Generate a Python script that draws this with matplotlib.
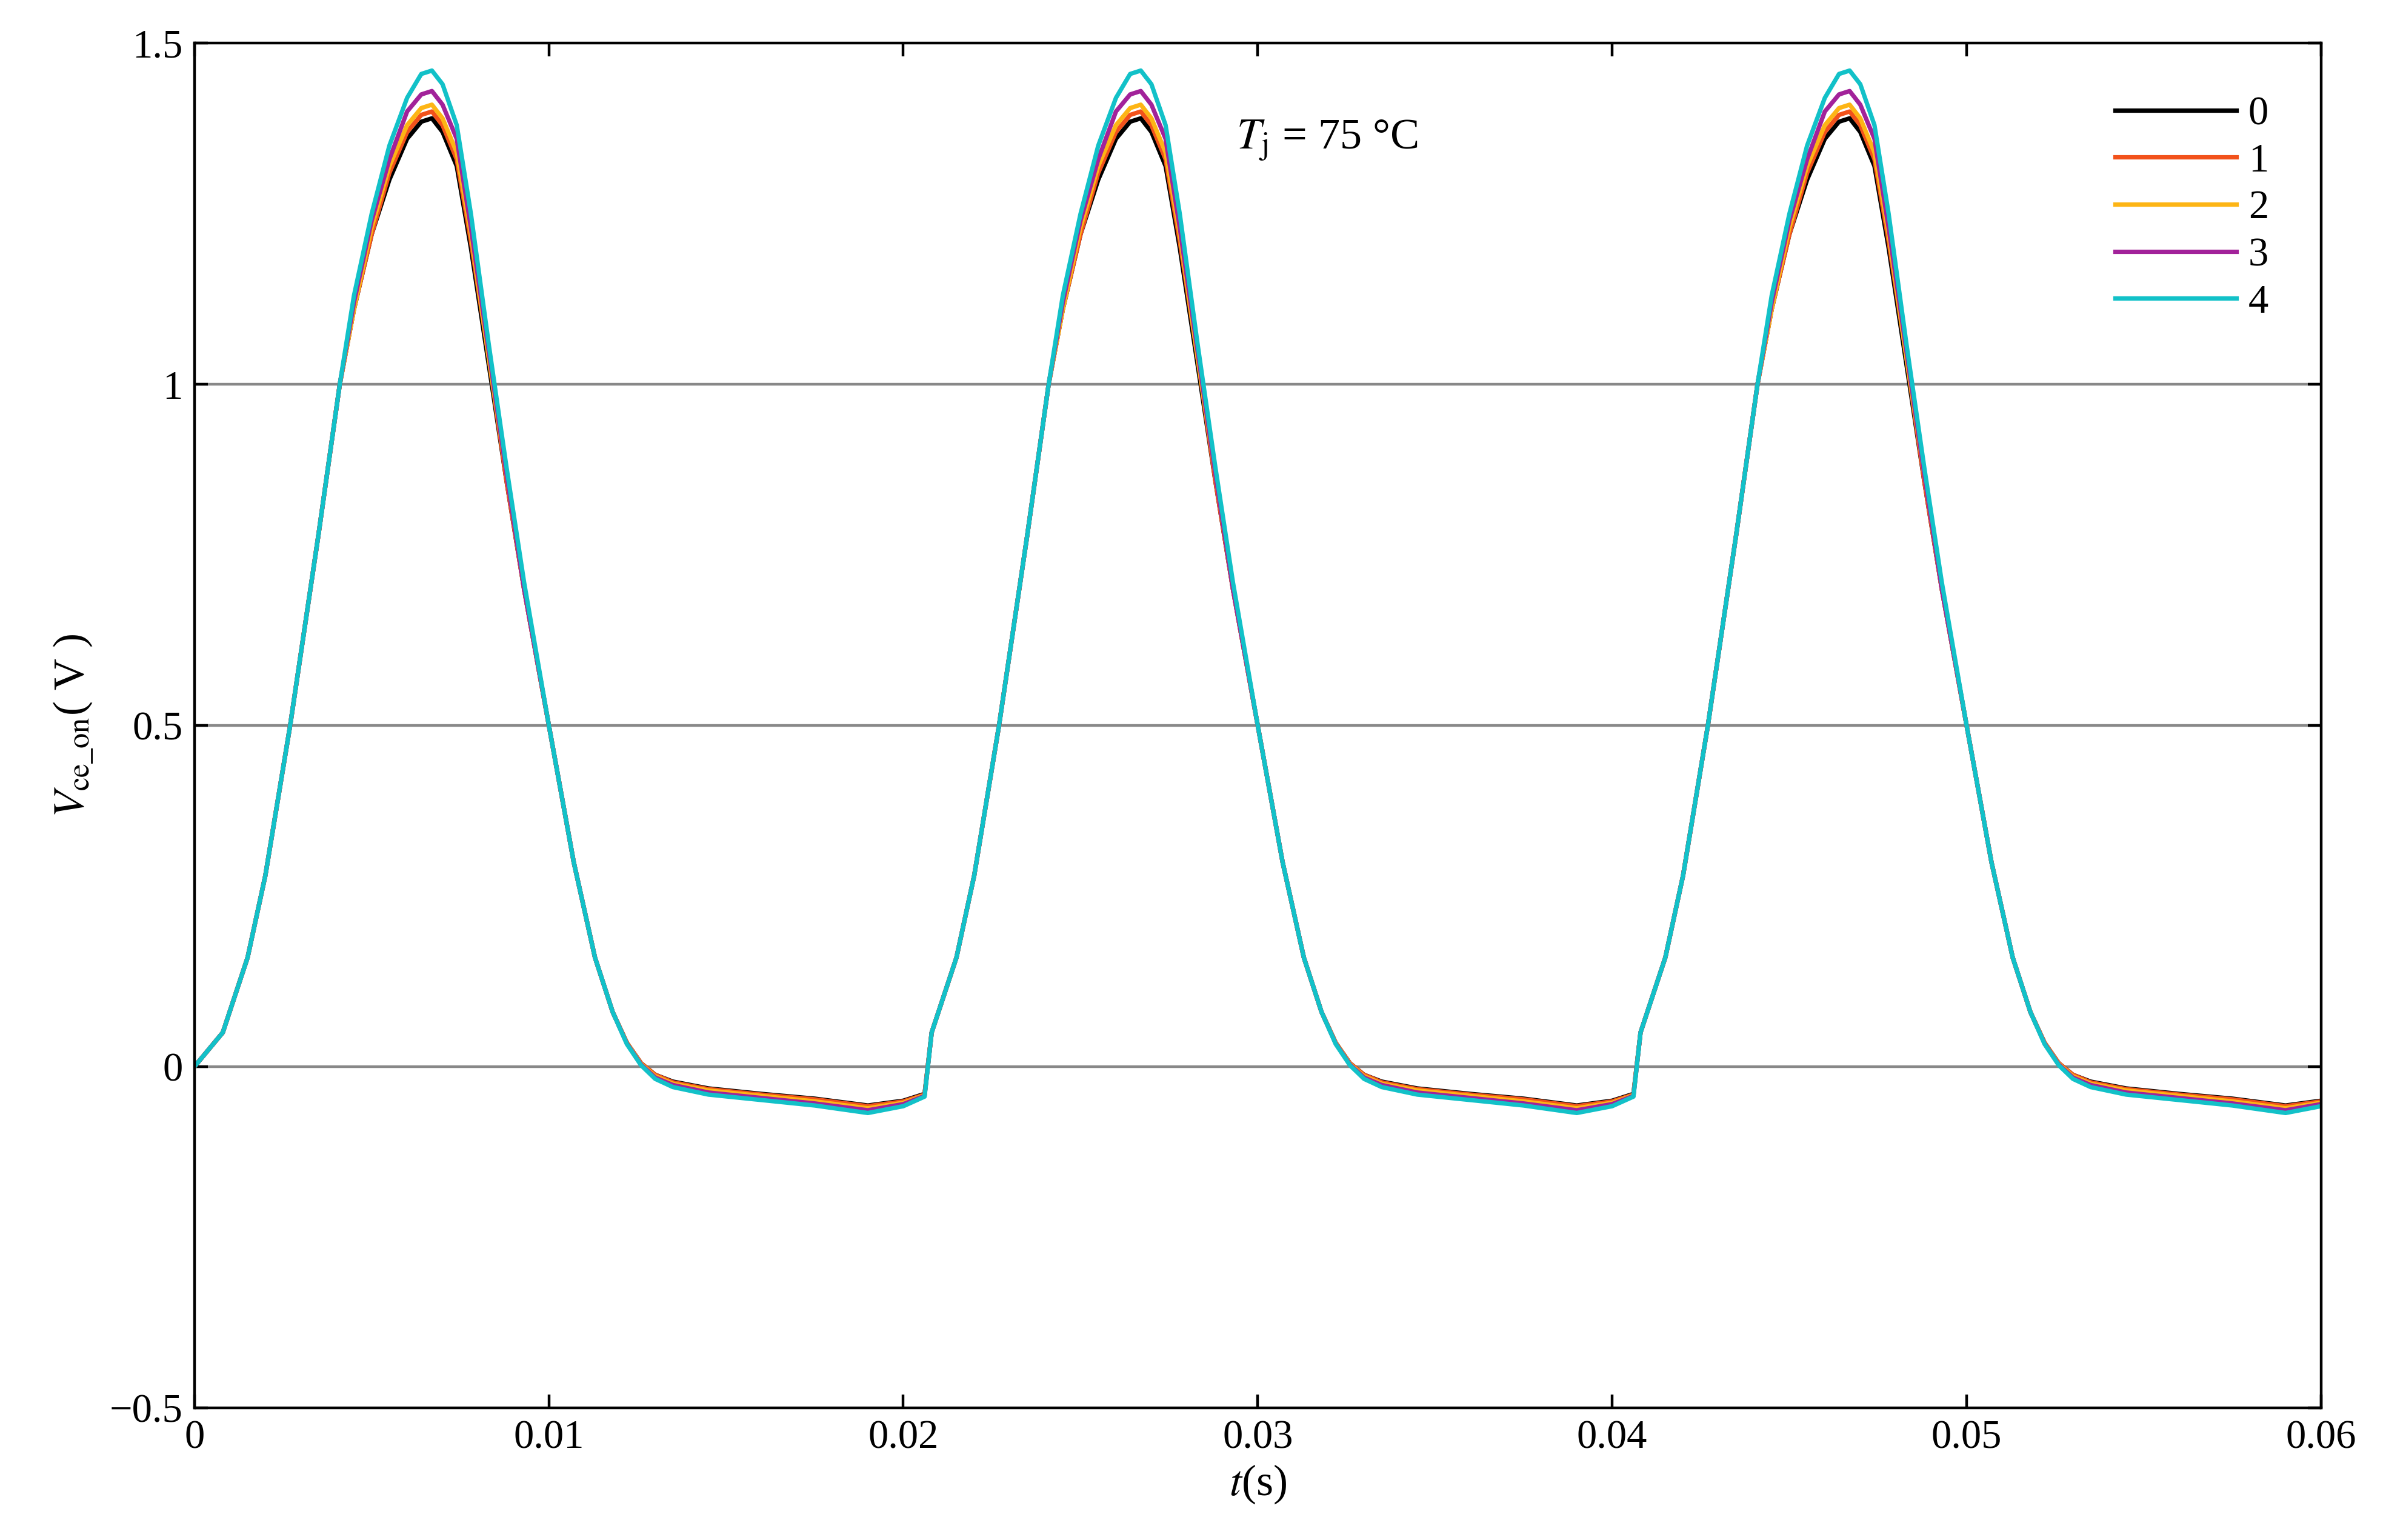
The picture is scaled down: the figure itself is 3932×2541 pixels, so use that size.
import numpy as np
import matplotlib
matplotlib.use("Agg")
import matplotlib.pyplot as plt

plt.rcParams["font.family"] = "Liberation Serif"
plt.rcParams["mathtext.fontset"] = "stix"

# one cycle, times relative to cycle start (period 0.02 s)
t_rel = [0.0008, 0.0015, 0.0020, 0.0027, 0.0031, 0.0035, 0.0041, 0.0045, 0.0050,
         0.0055, 0.0060, 0.0064, 0.0067, 0.0070, 0.0074, 0.0078, 0.0083, 0.0088,
         0.0093, 0.0100, 0.0107, 0.0113, 0.0118, 0.0122, 0.0126, 0.0130, 0.0135,
         0.0145, 0.0160, 0.0175, 0.0190, 0.0200, 0.0206]
v0 = [0.05, 0.16, 0.28, 0.50, 0.64, 0.78, 1.00, 1.11, 1.22, 1.30, 1.36, 1.385, 1.39,
      1.37, 1.32, 1.20, 1.03, 0.86, 0.70, 0.50, 0.30, 0.16, 0.08, 0.035, 0.005, -0.012,
      -0.022, -0.032, -0.040, -0.047, -0.057, -0.050, -0.040]
v1 = [0.05, 0.16, 0.28, 0.50, 0.64, 0.78, 1.00, 1.11, 1.22, 1.31, 1.37, 1.395, 1.40,
      1.38, 1.33, 1.21, 1.04, 0.86, 0.70, 0.50, 0.30, 0.16, 0.08, 0.035, 0.005, -0.012,
      -0.023, -0.033, -0.041, -0.048, -0.058, -0.051, -0.041]
v2 = [0.05, 0.16, 0.28, 0.50, 0.64, 0.78, 1.00, 1.11, 1.23, 1.32, 1.38, 1.405, 1.41,
      1.39, 1.34, 1.22, 1.04, 0.87, 0.70, 0.50, 0.30, 0.16, 0.08, 0.035, 0.004, -0.014,
      -0.025, -0.035, -0.043, -0.051, -0.061, -0.053, -0.042]
v3 = [0.05, 0.16, 0.28, 0.50, 0.64, 0.78, 1.00, 1.12, 1.24, 1.33, 1.40, 1.425, 1.43,
      1.41, 1.36, 1.23, 1.05, 0.87, 0.70, 0.50, 0.30, 0.16, 0.08, 0.034, 0.003, -0.016,
      -0.027, -0.038, -0.046, -0.054, -0.064, -0.055, -0.043]
v4 = [0.05, 0.16, 0.28, 0.50, 0.64, 0.78, 1.00, 1.13, 1.25, 1.35, 1.42, 1.455, 1.46,
      1.44, 1.38, 1.25, 1.06, 0.88, 0.71, 0.50, 0.30, 0.16, 0.08, 0.033, 0.002, -0.018,
      -0.030, -0.041, -0.049, -0.057, -0.068, -0.058, -0.044]
cycle_starts = [0.0, 0.02, 0.04]
labels = ["0", "1", "2", "3", "4"]
colors = ["#000000", "#F2521B", "#FDB515", "#A2229A", "#12C1C8"]

fig = plt.figure(figsize=(9.83, 6.3525), dpi=400)
ax = fig.add_axes([0.0816, 0.0859, 0.8924, 0.886])

for vals, lab, c in zip([v0, v1, v2, v3, v4], labels, colors):
    tt = [0.0]
    vv = [0.0]
    for s in cycle_starts:
        tt += [s + t for t in t_rel]
        vv += list(vals)
    ax.plot(tt, vv, color=c, lw=1.3, label=lab)

for y in [0, 0.5, 1.0]:
    ax.axhline(y, color="#888888", lw=0.8, zorder=0)

ax.set_xlim(0, 0.06)
ax.set_ylim(-0.5, 1.5)
ax.set_xticks([0, 0.01, 0.02, 0.03, 0.04, 0.05, 0.06])
ax.set_xticklabels(["0", "0.01", "0.02", "0.03", "0.04", "0.05", "0.06"])
ax.set_yticks([-0.5, 0, 0.5, 1, 1.5])
ax.set_yticklabels(["\u22120.5", "0", "0.5", "1", "1.5"])
ax.tick_params(direction="in", top=True, right=True, labelsize=12, length=4)
ax.set_xlabel("$t$(s)", fontsize=13, labelpad=2)
ax.set_ylabel("$V_{\\mathrm{ce\\_on}}$( V )", fontsize=13)
ax.text(0.0294, 1.345, "$T_{\\mathrm{j}}$ = 75 \u00b0C", fontsize=13)
ax.legend(loc="upper right", frameon=False, fontsize=12, handlelength=3.0,
          handletextpad=0.3, labelspacing=0.25, borderaxespad=0.9)

fig.savefig("out.png", dpi=400)
